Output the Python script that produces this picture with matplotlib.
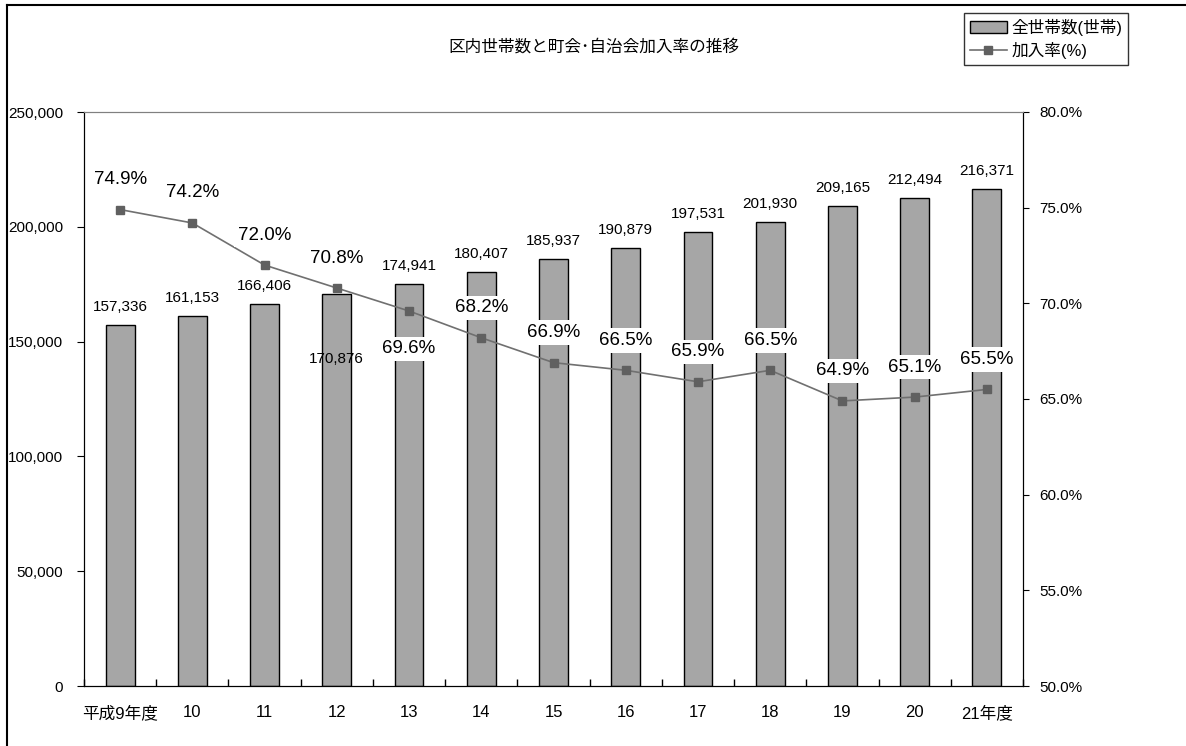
import matplotlib
matplotlib.use('Agg')
import matplotlib.pyplot as plt
from matplotlib.lines import Line2D
from matplotlib.ticker import FuncFormatter, FixedLocator
import numpy as np

plt.rcParams['font.family'] = ['Liberation Sans Narrow', 'Liberation Sans', 'Noto Sans CJK JP', 'DejaVu Sans']

# data
years = ['平成9年度', '10', '11', '12', '13', '14', '15', '16', '17', '18', '19', '20', '21年度']
households = [157336, 161153, 166406, 170876, 174941, 180407, 185937,
              190879, 197531, 201930, 209165, 212494, 216371]
rates = [74.9, 74.2, 72.0, 70.8, 69.6, 68.2, 66.9, 66.5, 65.9, 66.5, 64.9, 65.1, 65.5]

# label offsets in pixels (Excel placed a couple of them oddly)
bar_label_dy = [11] * 13
bar_label_dy[3] = -72
rate_label_dy = [30] * 13
rate_label_dy[4] = -38

fig = plt.figure(figsize=(11.86, 7.46), dpi=100)
W, H = 1186, 746
ax = fig.add_axes([84 / W, 1 - 686 / H, (1023 - 84) / W, (686 - 112) / H])
ax2 = ax.twinx()

x = np.arange(len(years))
ax.bar(x, households, width=0.4, color='#a6a6a6', edgecolor='black', linewidth=1.0, zorder=2)
ax.set_xlim(-0.5, len(years) - 0.5)
ax.set_ylim(0, 250000)
ax.set_yticks(np.arange(0, 250001, 50000))
ax.yaxis.set_major_formatter(FuncFormatter(lambda v, p: f'{int(v):,}'))
ax.set_xticks(x)
ax.set_xticklabels(years)
ax.xaxis.set_minor_locator(FixedLocator(np.arange(-0.5, len(years), 1.0)))
ax.tick_params(axis='x', which='major', length=0, pad=14, labelsize=12)
ax.tick_params(axis='x', which='minor', direction='in', length=5, width=1)
ax.tick_params(axis='y', direction='out', length=5, pad=10, labelsize=11)
ax.spines['top'].set_color('#808080')

for i, v in enumerate(households):
    ax.annotate(f'{v:,}', (x[i], v), xytext=(0, bar_label_dy[i] * 0.72),
                textcoords='offset points', ha='center', va='bottom', fontsize=11)

ax2.plot(x, rates, color='#707070', linewidth=1.2, marker='s', markersize=6,
         markerfacecolor='#606060', markeredgecolor='#606060', zorder=3)
ax2.set_ylim(50, 80)
ax2.set_yticks(np.arange(50, 80.1, 5))
ax2.yaxis.set_major_formatter(FuncFormatter(lambda v, p: f'{v:.1f}%'))
ax2.tick_params(axis='y', direction='out', length=4, pad=8, labelsize=11)
ax2.spines['top'].set_color('#808080')

for i, r in enumerate(rates):
    ax2.annotate(f'{r:.1f}%', (x[i], r), xytext=(0, rate_label_dy[i] * 0.72),
                 textcoords='offset points', ha='center', va='center', fontsize=13.5,
                 bbox=dict(boxstyle='square,pad=0.2', fc='white', ec='none'), zorder=4)

fig.text(594 / W, 1 - 47 / H, '区内世帯数と町会･自治会加入率の推移', ha='center', va='center', fontsize=12)

handles = [plt.Rectangle((0, 0), 1, 1, fc='#a6a6a6', ec='black', lw=1.0),
           Line2D([], [], color='#707070', lw=1.2, marker='s', markersize=6,
                  markerfacecolor='#606060', markeredgecolor='#606060')]
leg = fig.legend(handles, ['全世帯数(世帯)', '加入率(%)'], loc='upper left',
                 bbox_to_anchor=(964 / W, 1 - 13 / H), frameon=True, fancybox=False,
                 edgecolor='black', fontsize=12, handlelength=2.2, handletextpad=0.3,
                 borderpad=0.35, labelspacing=0.35, borderaxespad=0)
leg.get_frame().set_linewidth(1.0)

# outer chart border (left and top edges visible)
fig.add_artist(Line2D([7 / W, 7 / W], [0, 1 - 5 / H], color='black', lw=1.5))
fig.add_artist(Line2D([7 / W, 1], [1 - 5 / H, 1 - 5 / H], color='black', lw=1.5))

fig.savefig('out.png', dpi=100)
